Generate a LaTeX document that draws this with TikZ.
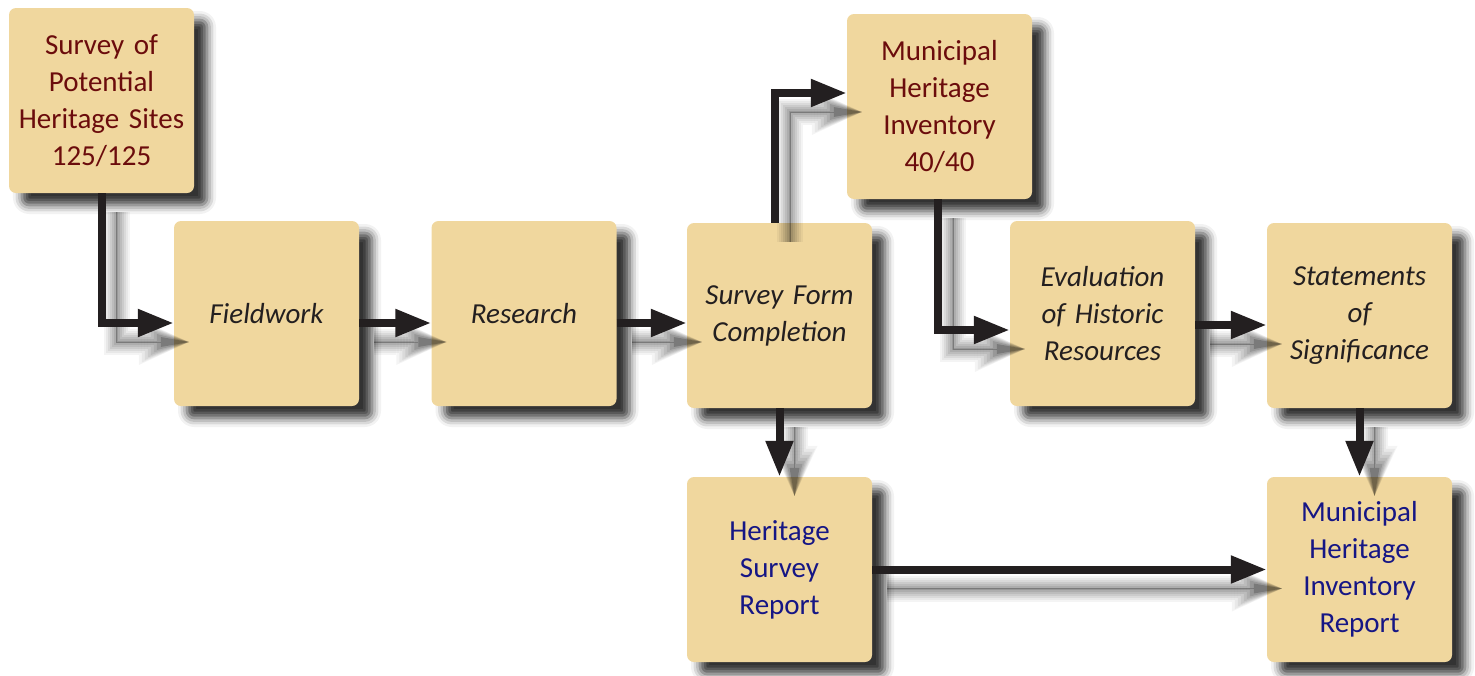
\documentclass[tikz,border=0pt]{standalone}
\usepackage{fontspec}
\setmainfont{Carlito}
\usetikzlibrary{arrows.meta,shadows.blur}

\definecolor{boxfill}{HTML}{F0D79E}
\definecolor{stepred}{HTML}{6B0C0C}
\definecolor{stepblue}{HTML}{161685}
\definecolor{stepdark}{HTML}{231F20}

\tikzset{
  box/.style={rectangle, rounded corners=7pt, fill=boxfill,
    minimum width=185pt, minimum height=185pt, inner sep=0pt,
    align=center, text width=180pt,
    font=\fontsize{29}{37}\selectfont,
    blur shadow={shadow xshift=13pt, shadow yshift=-12pt,
      shadow blur radius=9pt, shadow opacity=80}},
  task/.style={box, text=stepdark, font=\fontsize{29}{37}\selectfont\itshape},
  inventory/.style={box, text=stepred},
  report/.style={box, text=stepblue},
  % soft shadow of a connector: stacked translucent strokes
  flowshadow/.style n args={4}{preaction={draw=black, opacity=#1,
      line width=#2,
      -{Triangle[length=#3,width=#4,line width=0pt]},
      transform canvas={shift={(15pt,-19pt)}}}},
  flow/.style={line width=8pt, draw=stepdark, line join=miter,
    -{Triangle[length=36pt,width=26pt]},
    flowshadow={0.045}{26pt}{50pt}{46pt},
    flowshadow={0.05}{22pt}{47pt}{41pt},
    flowshadow={0.06}{18pt}{44pt}{36pt},
    flowshadow={0.07}{14pt}{41pt}{31pt},
    flowshadow={0.075}{10pt}{38pt}{26pt},
    flowshadow={0.08}{6pt}{35pt}{21pt},
    flowshadow={0.12}{2pt}{32pt}{16pt},
    flowshadow={0.2}{0.5pt}{28pt}{10pt}}
}

\begin{document}
\begin{tikzpicture}[x=1pt, y=-1pt]
  \useasboundingbox (0,0) rectangle (1475,675);

  % process boxes
  \node[inventory] (survey) at (101.5,100.5) {Survey of\\Potential\\Heritage Sites\\125/125};
  \node[task] (field) at (266.5,313.5) {Fieldwork};
  \node[task] (research) at (524,313.5) {Research};
  \node[task] (form) at (779.5,315.5) {Survey Form\\Completion};
  \node[inventory] (mhi) at (939.5,106.5) {Municipal\\Heritage\\Inventory\\40/40};
  \node[task] (eval) at (1102.5,313.5) {Evaluation\\of Historic\\Resources};
  \node[task] (stmt) at (1359.5,315.5) {Statements\\of\\Significance};
  \node[report] (hsr) at (779.5,569.5) {Heritage\\Survey\\Report};
  \node[report] (mhir) at (1359.5,569.5) {Municipal\\Heritage\\Inventory\\Report};

  % helper rows and columns for the connectors
  \coordinate (rowA) at (0,323);
  \coordinate (rowB) at (0,325);
  \coordinate (rowC) at (0,330);
  \coordinate (rowD) at (0,93);
  \coordinate (colA) at (775,0);
  \coordinate (colB) at (938,0);

  % connectors
  \draw[flow] (survey.south) |- (field.west |- rowA);
  \draw[flow] (field.east |- rowA) -- (research.west |- rowA);
  \draw[flow] (research.east |- rowA) -- (form.west |- rowA);
  \draw[flow] (form.north -| colA) |- (mhi.west |- rowD);
  \draw[flow] (mhi.south -| colB) |- (eval.west |- rowC);
  \draw[flow] (eval.east |- rowB) -- (stmt.west |- rowB);
  \draw[flow] (form.south) -- (hsr.north);
  \draw[flow] (stmt.south) -- (mhir.north);
  \draw[flow] (hsr.east) -- (mhir.west);
\end{tikzpicture}
\end{document}
